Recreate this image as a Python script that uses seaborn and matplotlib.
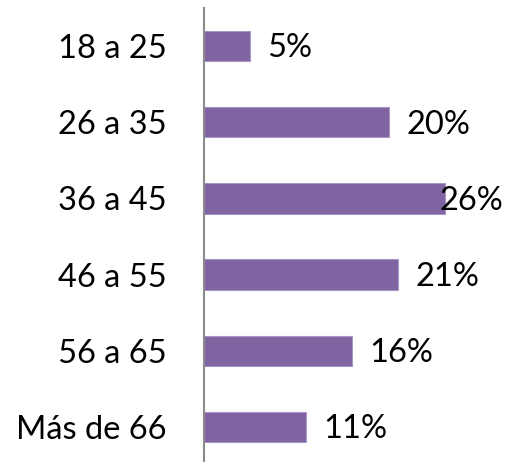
import pandas as pd
import matplotlib
matplotlib.use("Agg")
import matplotlib.pyplot as plt
import seaborn as sns

# Data
age_groups = ["18 a 25", "26 a 35", "36 a 45", "46 a 55", "56 a 65", "Más de 66"]
percentages = [5, 20, 26, 21, 16, 11]

data = pd.DataFrame({"Edad": age_groups, "Porcentaje": percentages})

sns.set_style("white")
plt.rcParams["font.family"] = ["Lato", "DejaVu Sans"]

fig = plt.figure(figsize=(5.08, 4.62), dpi=100)
ax = fig.add_axes([0.4006, 0.0, 0.5994, 0.9827])

sns.barplot(data=data, x="Porcentaje", y="Edad", orient="h", color="#8064A2",
            width=0.4, saturation=1, edgecolor="#A896C4", linewidth=0.8, ax=ax)

xmax = 32.8
ax.set_xlim(0, xmax)
ax.set_ylim(5.46, -0.5)

fs = 23.5
# Value labels; the one that would overflow the right edge is pulled back inside
for i, v in enumerate(percentages):
    x = v + 1.85
    ha = "left"
    if x > 26:
        x, ha = xmax - 0.5, "right"
    ax.text(x, i + 0.03, f"{v}%", ha=ha, va="center", fontsize=fs, color="black")

ax.set_xlabel("")
ax.set_ylabel("")
ax.set_xticks([])
ax.tick_params(axis="y", length=0, pad=26.5, labelsize=fs, labelcolor="black")

for s in ["top", "right", "bottom"]:
    ax.spines[s].set_visible(False)
ax.spines["left"].set_color("#8C8C8C")
ax.spines["left"].set_linewidth(1.5)

fig.savefig("out.png", dpi=100)
